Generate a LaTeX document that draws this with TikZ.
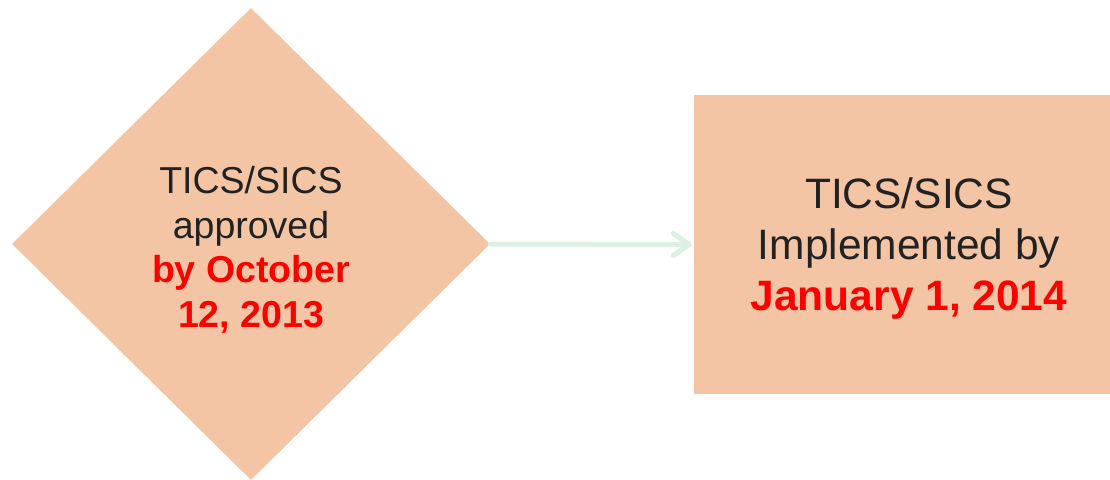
\documentclass[tikz,border=0pt]{standalone}
\usepackage{fontspec}
\setmainfont{Liberation Sans}
\usetikzlibrary{shapes.geometric,arrows.meta}
\definecolor{peach}{HTML}{F3C5A5}
\definecolor{txt}{HTML}{222222}
\definecolor{redtxt}{HTML}{FF0000}
\definecolor{arrowc}{HTML}{DDF0E4}
\begin{document}
\begin{tikzpicture}[x=1pt,y=-1pt,
  shapebox/.style={fill=peach,draw=none},
  flowarrow/.style={draw=arrowc,line width=5pt,line cap=round,
    -{Straight Barb[length=16pt,width=22pt,round]}}]
\useasboundingbox (0,0) rectangle (1110,479);
\node[shapebox,diamond,minimum width=478pt,minimum height=472pt,inner sep=0pt] (dia) at (251,244) {};
\node[align=center,text=txt,font=\fontsize{37.5pt}{44.5pt}\selectfont] (diatext) at (251,250)
  {TICS/SICS\\approved\\\textcolor{redtxt}{\bfseries by October}\\\textcolor{redtxt}{\bfseries 12, 2013}};
\node[shapebox,rectangle,minimum width=416pt,minimum height=299pt,inner sep=0pt] (box) at (902,244.5) {};
\node[align=center,text=txt,font=\fontsize{42.5pt}{51pt}\selectfont] (boxtext) at (909,249)
  {TICS/SICS\\Implemented by\\\textcolor{redtxt}{\bfseries January 1, 2014}};
\draw[flowarrow] (dia.east) -- ([xshift=-2pt]box.west);
\end{tikzpicture}
\end{document}
